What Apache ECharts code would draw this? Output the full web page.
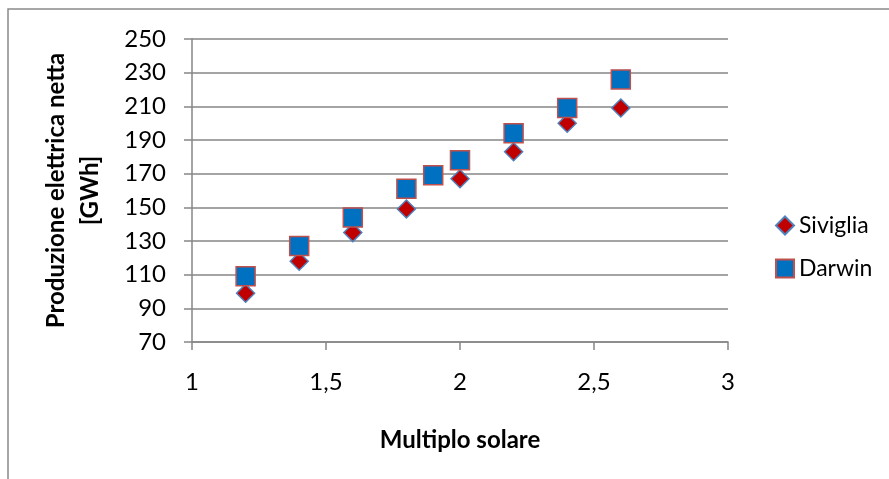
<!DOCTYPE html>
<html>
<head>
<meta charset="utf-8">
<script src="https://cdn.jsdelivr.net/npm/echarts@6/dist/echarts.min.js"></script>
<style>
  html, body { margin: 0; padding: 0; background: #fff; }
  #chart { width: 889px; height: 479px; }
</style>
</head>
<body>
<div id="chart"></div>
<script>
// Net electric production versus solar multiple, two sites
const multiploSiviglia = [1.2, 1.4, 1.6, 1.8, 2.0, 2.2, 2.4, 2.6];
const produzioneSiviglia = [99, 118, 135, 149, 167, 183, 200, 209];
const multiploDarwin = [1.2, 1.4, 1.6, 1.8, 1.9, 2.0, 2.2, 2.4, 2.6];
const produzioneDarwin = [109, 127, 144, 161, 169, 178, 194, 209, 226];
const seriesNames = ['Siviglia', 'Darwin'];
const xTitle = 'Multiplo solare';
const yTitle = 'Produzione elettrica netta\n[GWh]';

const FONT = 'Lato, "Open Sans", "Noto Sans", sans-serif';
const pair = (xs, ys) => xs.map((x, i) => [x, ys[i]]);

const chart = echarts.init(document.getElementById('chart'), null, { renderer: 'canvas' });
chart.setOption({
  backgroundColor: '#fff',
  animation: false,
  textStyle: { fontFamily: FONT },
  graphic: [
    { type: 'polyline', shape: { points: [[8, 479], [8, 9], [889, 9]] },
      style: { stroke: '#8a8a8a', lineWidth: 1.5, fill: null } }
  ],
  grid: { left: 192, right: 161, top: 39, bottom: 137 },
  legend: {
    orient: 'vertical',
    left: 770, top: 209,
    itemGap: 20,
    itemWidth: 18, itemHeight: 18,
    textStyle: { fontSize: 23, color: '#000', fontFamily: FONT },
    data: seriesNames
  },
  xAxis: {
    type: 'value', min: 1, max: 3, interval: 0.5,
    name: xTitle, nameLocation: 'middle', nameGap: 86,
    nameTextStyle: { fontSize: 24, fontWeight: 'bold', color: '#000', fontFamily: FONT },
    axisLine: { show: true, lineStyle: { color: '#868686', width: 1.5 } },
    axisTick: { show: true, length: 8, lineStyle: { color: '#868686', width: 1.5 } },
    axisLabel: { fontSize: 24, color: '#000', margin: 28,
      formatter: v => String(v).replace('.', ',') },
    splitLine: { show: false }
  },
  yAxis: {
    type: 'value', min: 70, max: 250, interval: 20,
    name: yTitle, nameLocation: 'middle', nameGap: 85, nameRotate: 90,
    nameTextStyle: { fontSize: 24, fontWeight: 'bold', color: '#000', lineHeight: 34, fontFamily: FONT },
    axisLine: { show: true, lineStyle: { color: '#868686', width: 1.5 } },
    axisTick: { show: true, length: 8, lineStyle: { color: '#868686', width: 1.5 } },
    axisLabel: { fontSize: 24, color: '#000', margin: 26 },
    splitLine: { show: true, lineStyle: { color: '#868686', width: 1.5 } }
  },
  series: [
    {
      name: seriesNames[0], type: 'scatter', symbol: 'diamond', symbolSize: 18,
      itemStyle: { color: '#C00000', borderColor: '#4F81BD', borderWidth: 1.5, opacity: 1 },
      data: pair(multiploSiviglia, produzioneSiviglia), z: 2
    },
    {
      name: seriesNames[1], type: 'scatter', symbol: 'rect', symbolSize: 19,
      itemStyle: { color: '#0070C0', borderColor: '#C0504D', borderWidth: 1.5, opacity: 1 },
      data: pair(multiploDarwin, produzioneDarwin), z: 3
    }
  ]
});
</script>
</body>
</html>
